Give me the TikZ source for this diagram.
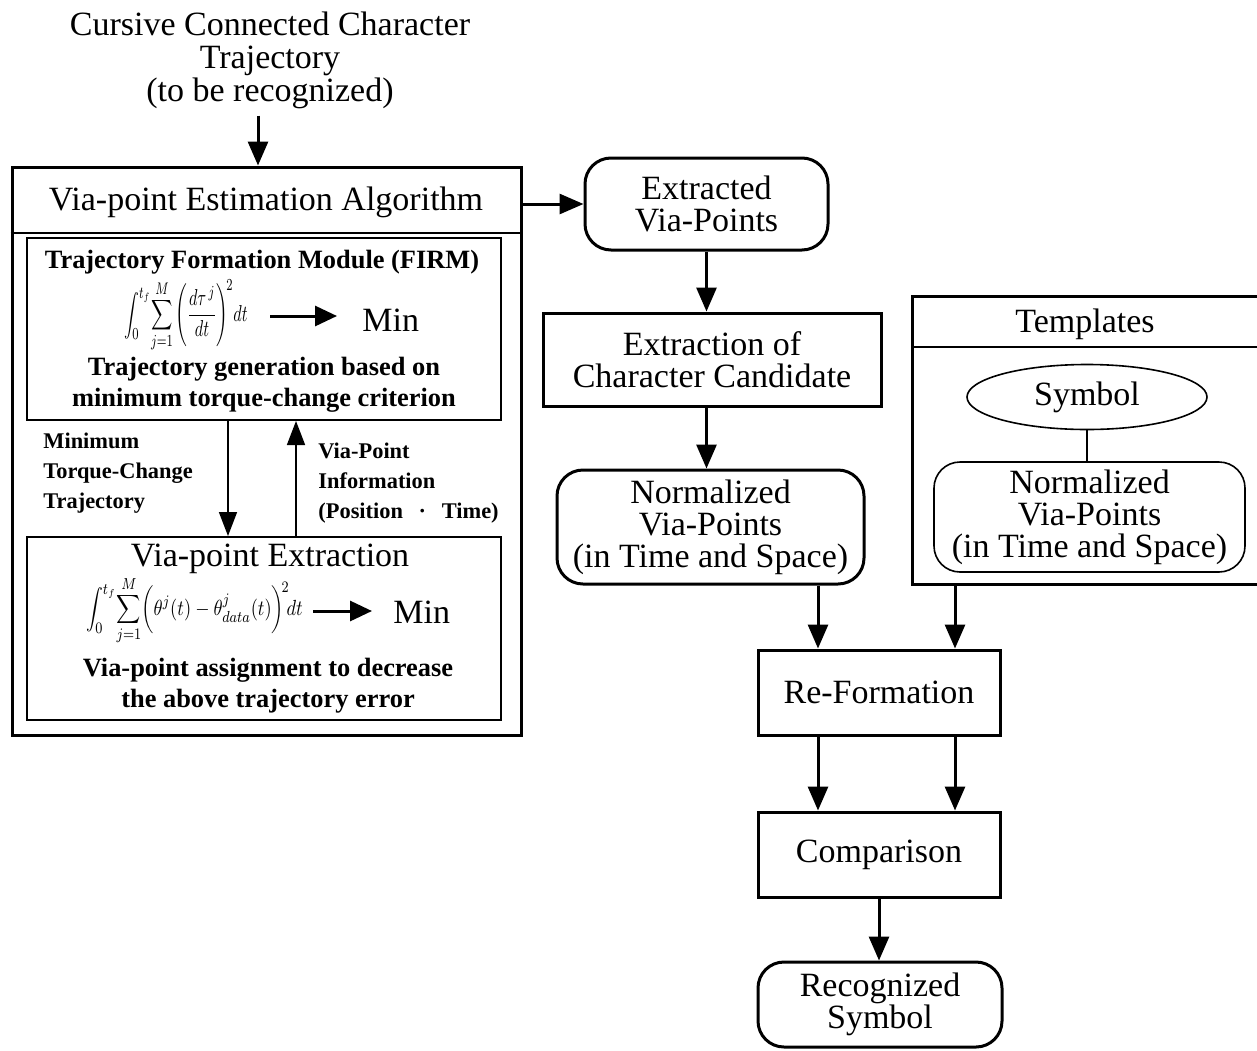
\documentclass[tikz,border=0pt]{standalone}
\usepackage{fontspec}
\usepackage{graphicx}
\setmainfont{Liberation Serif}
\usetikzlibrary{arrows.meta,shapes.geometric}
\begin{document}
\begin{tikzpicture}[x=0.5pt,y=-0.5pt,
  big/.style={font=\fontsize{17}{16}\selectfont, align=center},
  mid/.style={font=\fontsize{13.2}{15.5}\selectfont\bfseries, align=center},
  lab/.style={font=\fontsize{11.2}{15}\selectfont\bfseries, align=left, anchor=west, inner sep=0pt},
  sqbox/.style={draw, line width=1.5pt, inner sep=0pt},
  inbox/.style={draw, line width=1pt, inner sep=0pt},
  rbox/.style={draw, line width=1.5pt, rounded corners=13pt, inner sep=0pt},
  arr/.style={line width=1.5pt, -{Triangle[length=12pt,width=10pt]}},
  tarr/.style={line width=0.8pt, -{Triangle[length=12pt,width=9pt]}},
  marr/.style={line width=1.5pt, -{Triangle[length=11pt,width=10pt]}},
  fml/.style={font=\fontsize{11}{13}\selectfont, inner sep=0pt},
]
\useasboundingbox (0,0) rectangle (1257,1050);

% title
\node[big, font=\fontsize{17}{16.5}\selectfont] (title) at (270,60) {Cursive Connected Character\\Trajectory\\(to be recognized)};
\coordinate (tin) at (258,0);

% outer algorithm box
\node[sqbox, minimum width=254.5pt, minimum height=284pt] (vea) at (266.5,451) {};
\coordinate (hd) at (0,233);
\draw[line width=1pt] (vea.west |- hd) -- (vea.east |- hd);
\node[big] (veah) at (266,202) {Via-point Estimation Algorithm};
\draw[arr] (title.south -| tin) -- (vea.north -| tin);

% FIRM box
\node[inbox, minimum width=237pt, minimum height=91pt] (firm) at (264,329) {};
\node[mid] (firmh) at (262,262) {Trajectory Formation Module (FIRM)};
\node[fml] (f1) at (186,316) {\scalebox{0.74}[1.05]{$\displaystyle\int_0^{t_f}\!\sum_{j=1}^{M}\left(\frac{d\tau^{\,j}}{dt}\right)^{\!2}\!dt$}};
\node[big, anchor=west, inner sep=0pt] (m1) at (362,320) {Min};
\draw[marr] (f1.east -| 270,0) -- (f1.east -| 337,0);
\node[mid] (firmt) at (264,385) {Trajectory generation based on\\minimum torque-change criterion};

% extraction box
\node[inbox, minimum width=237pt, minimum height=91.5pt] (extr) at (264,628.5) {};
\node[big] (extrh) at (270,559) {Via-point Extraction};
\node[fml] (f2) at (194.5,611) {\scalebox{0.84}[1]{$\displaystyle\int_0^{t_f}\!\sum_{j=1}^{M}\biggl(\theta^{j}(t)-\theta^{j}_{data}(t)\biggr)^{\!2}\!dt$}};
\node[big, anchor=west, inner sep=0pt] (m2) at (393,612) {Min};
\draw[marr] (f2.east -| 313,0) -- (f2.east -| 372,0);
\node[mid] (extrt) at (268,686) {Via-point assignment to decrease\\the above trajectory error};

% inner arrows
\coordinate (dx) at (228,480);
\coordinate (ux) at (296,480);
\draw[tarr] (firm.south -| dx) -- (extr.north -| dx);
\draw[tarr] (extr.north -| ux) -- (firm.south -| ux);
\node[lab] (l1) at (43,473) {Minimum\\Torque-Change\\Trajectory};
\node[lab] (l2) at (318,483) {Via-Point\\Information\\(Position\hspace{0.7em}·\hspace{0.7em}Time)};

% middle column
\node[rbox, big, minimum width=121.5pt, minimum height=46pt] (xvp) at (706.5,204) {Extracted\\Via-Points};
\draw[arr] (xvp.west -| vea.east) -- (xvp.west);
\node[sqbox, big, minimum width=169pt, minimum height=46.5pt] (cand) at (712,359.5) {Extraction of\\Character Candidate};
\draw[arr] (xvp.south) -- (xvp.south |- cand.north);
\node[rbox, big, minimum width=153.5pt, minimum height=57pt] (norm) at (710.5,527) {Normalized\\Via-Points\\(in Time and Space)};
\draw[arr] (xvp.south |- cand.south) -- (xvp.south |- norm.north);

% templates
\node[minimum width=172pt, minimum height=143.5pt, inner sep=0pt] (templ) at (1085,440.5) {};
\draw[line width=1.5pt] (templ.north east) -- (templ.north west) -- (templ.south west) -- (templ.south east);
\coordinate (td) at (0,347);
\draw[line width=0.8pt] (templ.west |- td) -- (templ.east |- td);
\node[big] (templh) at (1085,324) {Templates};
\node[ellipse, draw, line width=0.8pt, minimum width=120pt, minimum height=32.5pt, inner sep=0pt, big] (sym) at (1087,397) {Symbol};
\node[rbox, line width=0.8pt, big, minimum width=155.5pt, minimum height=55pt] (tnorm) at (1089.5,517) {Normalized\\Via-Points\\(in Time and Space)};
\draw[line width=0.8pt] (sym.south) -- (sym.south |- tnorm.north);

% bottom column
\node[sqbox, big, minimum width=121pt, minimum height=42.5pt] (refo) at (879,692.5) {Re-Formation};
\coordinate (a1) at (818,0);
\coordinate (a2) at (955,0);
\draw[arr] (norm.south -| a1) -- (refo.north -| a1);
\draw[arr] (templ.south -| a2) -- (refo.north -| a2);
\node[sqbox, big, minimum width=121pt, minimum height=42.5pt] (comp) at (879,854.5) {Comparison};
\draw[arr] (refo.south -| a1) -- (comp.north -| a1);
\draw[arr] (refo.south -| a2) -- (comp.north -| a2);
\node[rbox, big, minimum width=122pt, minimum height=42.5pt] (recog) at (880,1004.5) {Recognized\\Symbol};
\draw[arr] (comp.south) -- (comp.south |- recog.north);
\end{tikzpicture}
\end{document}
